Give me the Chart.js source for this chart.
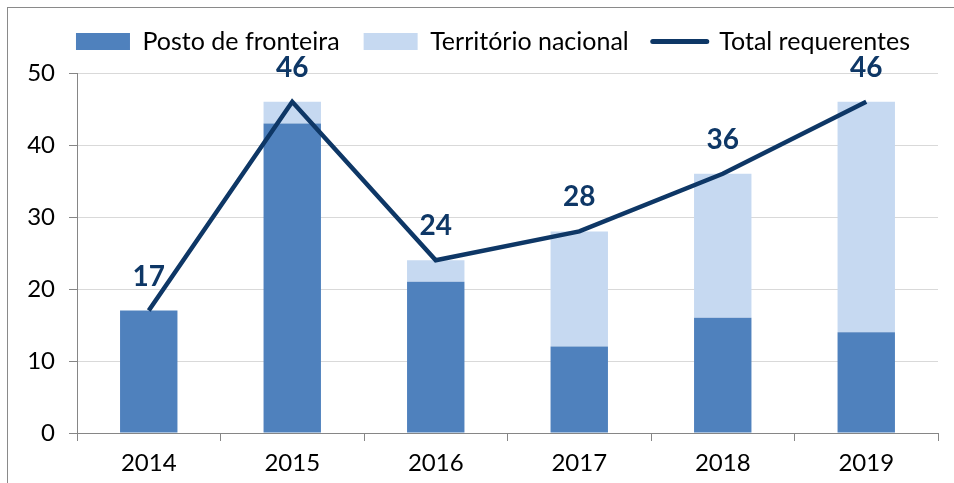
<!DOCTYPE html>
<html lang="pt">
<head>
    <meta charset="UTF-8">
    <title>Total requerentes</title>
    <script src="https://cdn.jsdelivr.net/npm/chart.js@4.4.1/dist/chart.umd.min.js"></script>
    <style>
        body {
            margin: 0;
            background: #fff;
        }
        .frame {
            position: absolute;
            left: 7px;
            top: 7px;
            width: 960px;
            height: 490px;
            border-left: 1px solid #8a8a8a;
            border-top: 1px solid #8a8a8a;
        }
        .chart-container {
            position: absolute;
            left: 0;
            top: 0;
            width: 954px;
            height: 483px;
        }
    </style>
</head>
<body>
    <div class="frame"></div>
    <div class="chart-container">
        <canvas id="requerentesChart"></canvas>
    </div>

    <script>
        const years = ['2014', '2015', '2016', '2017', '2018', '2019'];
        const postoFronteira = [17, 43, 21, 12, 16, 14];
        const territorioNacional = [0, 3, 3, 16, 20, 32];
        const totalRequerentes = [17, 46, 24, 28, 36, 46];
        const yTicks = [0, 10, 20, 30, 40, 50];

        const navy = '#0e3766';
        const axisGray = '#868686';

        // numbers above the line points
        const totalLabels = {
            id: 'totalLabels',
            afterDatasetsDraw(chart) {
                const meta = chart.getDatasetMeta(2);
                const ctx = chart.ctx;
                ctx.save();
                ctx.font = 'bold 28px Lato';
                ctx.fillStyle = navy;
                ctx.textAlign = 'center';
                ctx.textBaseline = 'middle';
                meta.data.forEach((pt, i) => {
                    ctx.fillText(totalRequerentes[i], pt.x, pt.y - 34);
                });
                ctx.restore();
            }
        };

        // more room under the legend, and nudge it right like the original
        const legendMargin = {
            id: 'legendMargin',
            beforeInit(chart) {
                const fit = chart.legend.fit;
                chart.legend.fit = function () {
                    fit.call(this);
                    this.height += 9;
                };
            },
            afterLayout(chart) {
                chart.legend.left += 24;
                chart.legend.right += 24;
            }
        };

        const ctx = document.getElementById('requerentesChart').getContext('2d');
        new Chart(ctx, {
            data: {
                labels: years,
                datasets: [
                    {
                        type: 'bar',
                        label: 'Posto de fronteira',
                        data: postoFronteira,
                        backgroundColor: '#4f81bd',
                        stack: 'req',
                        order: 1
                    },
                    {
                        type: 'bar',
                        label: 'Território nacional',
                        data: territorioNacional,
                        backgroundColor: '#c6d9f1',
                        stack: 'req',
                        order: 1
                    },
                    {
                        type: 'line',
                        label: 'Total requerentes',
                        data: totalRequerentes,
                        borderColor: navy,
                        backgroundColor: navy,
                        borderWidth: 4.5,
                        pointRadius: 0,
                        tension: 0,
                        stack: 'total',
                        order: 0
                    }
                ]
            },
            options: {
                responsive: true,
                maintainAspectRatio: false,
                animation: false,
                datasets: {
                    bar: { categoryPercentage: 1, barPercentage: 0.4 }
                },
                layout: {
                    padding: { top: 5, right: 16, left: 0, bottom: 0 }
                },
                plugins: {
                    tooltip: { enabled: false },
                    legend: {
                        position: 'top',
                        labels: {
                            usePointStyle: true,
                            pointStyleWidth: 54,
                            boxHeight: 17,
                            padding: 24,
                            color: '#000',
                            font: { family: 'Lato', size: 25 },
                            sort: (a, b) => a.datasetIndex - b.datasetIndex,
                            generateLabels: chart =>
                                Chart.defaults.plugins.legend.labels.generateLabels(chart).map(it => ({
                                    ...it,
                                    pointStyle: it.datasetIndex === 2 ? 'line' : 'rect',
                                    lineWidth: it.datasetIndex === 2 ? 5 : 0,
                                    lineCap: 'round'
                                }))
                        }
                    }
                },
                scales: {
                    x: {
                        stacked: true,
                        grid: {
                            display: true,
                            drawOnChartArea: false,
                            tickLength: 8,
                            tickColor: axisGray
                        },
                        border: { color: axisGray },
                        ticks: {
                            color: '#000',
                            padding: 8,
                            font: { family: 'Lato', size: 24 }
                        },
                        afterFit: s => { s.height = 50; }
                    },
                    y: {
                        stacked: true,
                        min: 0,
                        max: 50,
                        grid: {
                            color: '#d9d9d9',
                            tickLength: 8,
                            tickColor: axisGray
                        },
                        border: { color: axisGray },
                        ticks: {
                            color: '#000',
                            padding: 14,
                            font: { family: 'Lato', size: 24 }
                        },
                        afterBuildTicks: s => { s.ticks = yTicks.map(v => ({ value: v })); },
                        afterFit: s => { s.width = 77; }
                    }
                }
            },
            plugins: [totalLabels, legendMargin]
        });
    </script>
</body>
</html>
